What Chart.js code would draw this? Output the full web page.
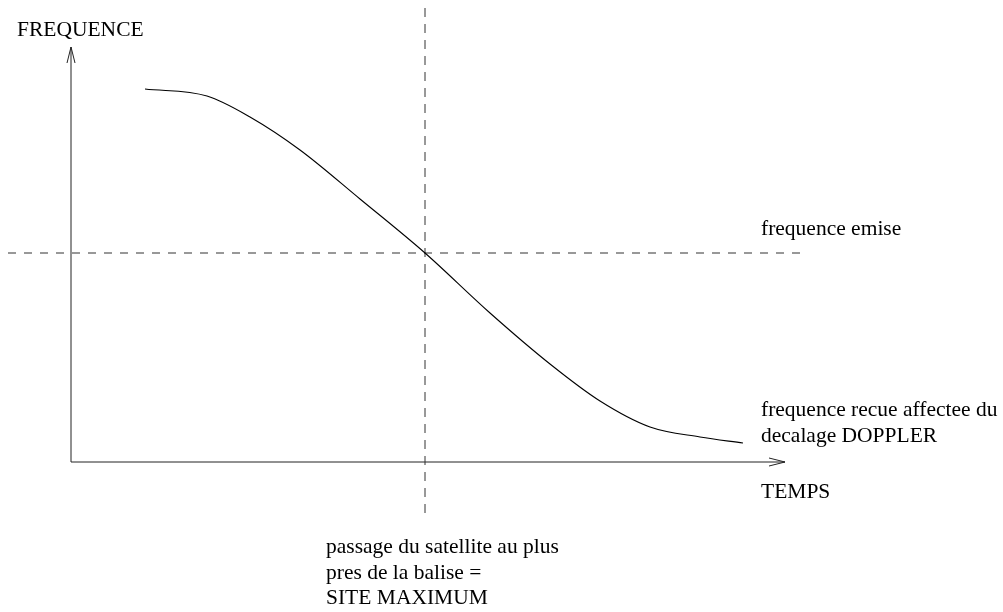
<!DOCTYPE html>
<html>
<head>
<meta charset="utf-8">
<script src="https://cdn.jsdelivr.net/npm/chart.js@4/dist/chart.umd.min.js"></script>
<style>
  html, body { margin: 0; padding: 0; background: #fff; }
  #wrap { width: 1003px; height: 612px; }
</style>
</head>
<body>
<div id="wrap"><canvas id="doppler"></canvas></div>
<script>
// Repere : origine = croisement des axes, unites ~ pixels
const tempsCourbe = [74, 136, 179, 229, 289, 354, 419, 479, 529, 579, 629, 672];
const freqCourbe  = [373, 366, 345, 312, 263, 209, 149, 98, 61, 35, 25, 19];

const freqEmise = 209;          // niveau de la frequence emise
const tempsSiteMax = 354;       // instant du passage au plus pres
const ligneEmise = [-63, 737];  // etendue de la ligne pointillee horizontale
const ligneSite = [454, -55];   // etendue de la ligne pointillee verticale

const axeTempsFin = 714;
const axeFreqFin = 415;
const flecheLong = 16;
const flecheLarg = 4;

const textes = [
  { t: 'FREQUENCE', x: 17, y: 36 },
  { t: 'frequence emise', x: 761, y: 235 },
  { t: 'frequence recue affectee du', x: 761, y: 416 },
  { t: 'decalage DOPPLER', x: 761, y: 442 },
  { t: 'TEMPS', x: 761, y: 498 },
  { t: 'passage du satellite au plus', x: 326, y: 553 },
  { t: 'pres de la balise =', x: 326, y: 579 },
  { t: 'SITE MAXIMUM', x: 326, y: 604 }
];

const courbe = tempsCourbe.map((t, i) => ({ x: t, y: freqCourbe[i] }));

function trait(points, opts) {
  return Object.assign({
    data: points,
    borderColor: '#000',
    borderWidth: 1,
    pointRadius: 0,
    fill: false,
    tension: 0
  }, opts || {});
}

const textesPlugin = {
  id: 'textes',
  afterDraw(chart) {
    const ctx = chart.ctx;
    ctx.save();
    ctx.fillStyle = '#000';
    ctx.font = '21.5px "Liberation Serif", "Times New Roman", serif';
    ctx.textAlign = 'left';
    ctx.textBaseline = 'alphabetic';
    textes.forEach(item => ctx.fillText(item.t, item.x, item.y));
    ctx.restore();
  }
};

new Chart(document.getElementById('doppler'), {
  type: 'line',
  data: {
    datasets: [
      // courbe doppler
      trait(courbe, { borderWidth: 1.1, cubicInterpolationMode: 'monotone' }),
      // frequence emise
      trait([{ x: ligneEmise[0], y: freqEmise }, { x: ligneEmise[1], y: freqEmise }],
            { borderColor: '#333', borderDash: [8, 8] }),
      // site maximum
      trait([{ x: tempsSiteMax, y: ligneSite[0] }, { x: tempsSiteMax, y: ligneSite[1] }],
            { borderColor: '#333', borderDash: [9, 7] }),
      // axe des frequences + fleche
      trait([{ x: 0, y: 0 }, { x: 0, y: axeFreqFin }], { borderColor: '#222' }),
      trait([{ x: -flecheLarg, y: axeFreqFin - flecheLong }, { x: 0, y: axeFreqFin }, { x: flecheLarg, y: axeFreqFin - flecheLong }],
            { borderColor: '#222' }),
      // axe des temps + fleche
      trait([{ x: 0, y: 0 }, { x: axeTempsFin, y: 0 }], { borderColor: '#222' }),
      trait([{ x: axeTempsFin - flecheLong, y: flecheLarg }, { x: axeTempsFin, y: 0 }, { x: axeTempsFin - flecheLong, y: -flecheLarg }],
            { borderColor: '#222' })
    ]
  },
  options: {
    responsive: true,
    maintainAspectRatio: false,
    animation: false,
    layout: { padding: 0 },
    plugins: {
      legend: { display: false },
      tooltip: { enabled: false }
    },
    scales: {
      x: { type: 'linear', min: -71, max: 932, display: false },
      y: { type: 'linear', min: -150, max: 462, display: false }
    }
  },
  plugins: [textesPlugin]
});
</script>
</body>
</html>
